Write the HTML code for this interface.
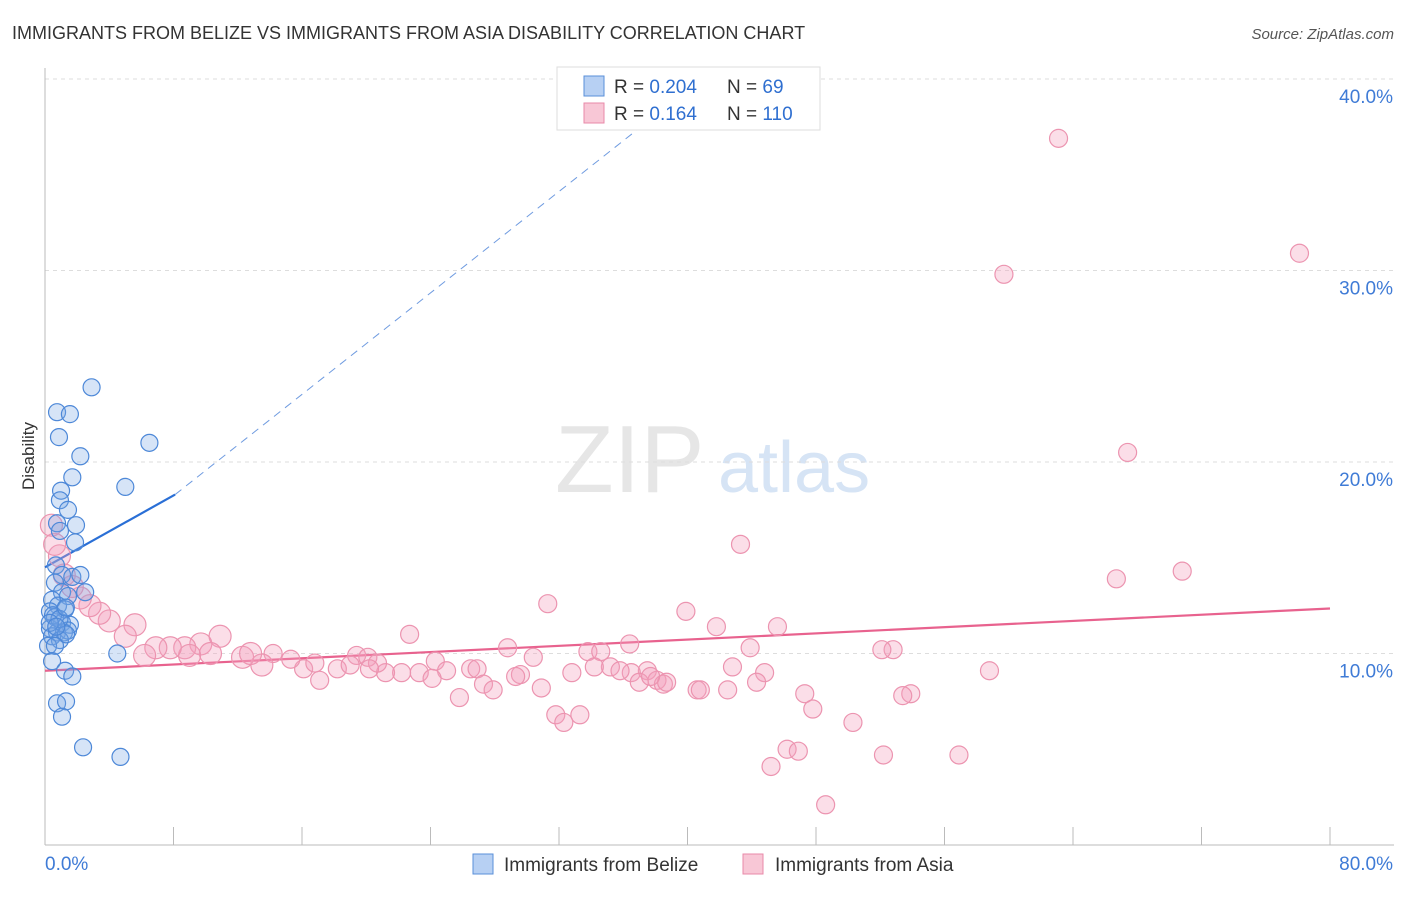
<!DOCTYPE html>
<html><head><meta charset="utf-8"><style>
body{margin:0;background:#fff;font-family:"Liberation Sans",sans-serif;}
svg text{font-family:"Liberation Sans",sans-serif;}
</style></head><body>
<svg id="chart" width="1406" height="892" xmlns="http://www.w3.org/2000/svg">
<text x="12" y="39" font-size="18" fill="#333">IMMIGRANTS FROM BELIZE VS IMMIGRANTS FROM ASIA DISABILITY CORRELATION CHART</text>
<text x="1394" y="39" font-size="15" fill="#555" text-anchor="end" font-style="italic">Source: ZipAtlas.com</text>
<text x="555" y="492" font-size="96" fill="#e6e6e6" font-family="Liberation Serif">ZIP</text>
<text x="718" y="492" font-size="72" fill="#d6e4f5">atlas</text>
<g id="grid"></g>
<g id="axes"></g>
<g id="trend"></g>
<g id="pts"></g>
<text x="34" y="456" font-size="17" fill="#333" text-anchor="middle" transform="rotate(-90 34 456)">Disability</text>
<g>
<rect x="557" y="67" width="263" height="63" fill="#fff" stroke="#ddd"/>
<rect x="584" y="76" width="20" height="20" fill="#b7d0f3" stroke="#5a8fd8"/>
<rect x="584" y="103" width="20" height="20" fill="#f8c7d6" stroke="#e88aa8"/>
<text x="614" y="93" font-size="19" fill="#333">R = <tspan fill="#2f6fd0">0.204</tspan></text>
<text x="727" y="93" font-size="19" fill="#333">N = <tspan fill="#2f6fd0"> 69</tspan></text>
<text x="614" y="120" font-size="19" fill="#333">R = <tspan fill="#2f6fd0"> 0.164</tspan></text>
<text x="727" y="120" font-size="19" fill="#333">N = <tspan fill="#2f6fd0">110</tspan></text>
</g>
<g>
<rect x="473" y="854" width="20" height="20" fill="#b7d0f3" stroke="#5a8fd8"/>
<text x="504" y="871" font-size="19" fill="#333">Immigrants from Belize</text>
<rect x="743" y="854" width="20" height="20" fill="#f8c7d6" stroke="#e88aa8"/>
<text x="775" y="871" font-size="19" fill="#333">Immigrants from Asia</text>
</g>
</svg>
<script>
const yTicks=[10,20,30,40];
const yTickLabels=["10.0%","20.0%","30.0%","40.0%"];
const xEndLabels=["0.0%","80.0%"];
const belizeX=[2.9,0.75,1.55,0.87,6.5,2.2,1.7,5.0,1.0,0.93,1.43,0.75,1.93,0.93,1.87,0.68,1.06,1.7,2.2,0.62,1.06,1.43,2.5,0.44,0.81,1.25,0.31,0.62,1.06,1.55,0.31,0.75,1.18,1.43,0.44,0.93,1.31,0.19,0.62,4.5,0.44,1.25,1.7,0.75,1.31,1.06,2.37,4.7,0.5,0.9,1.3,0.3,0.7];
const belizeY=[23.9,22.6,22.5,21.3,21.0,20.3,19.2,18.7,18.5,18.0,17.5,16.8,16.7,16.4,15.8,14.6,14.1,14.0,14.1,13.7,13.2,13.0,13.2,12.8,12.5,12.3,12.2,11.9,11.6,11.5,11.3,11.1,11.1,11.2,10.9,10.7,11.0,10.4,10.4,10.0,9.6,9.1,8.8,7.4,7.5,6.7,5.1,4.6,12.0,11.8,12.4,11.6,11.4];
const asiaX=[63.1,78.1,59.7,67.4,43.3,70.8,66.7,31.3,39.9,41.8,45.6,22.7,36.4,52.8,52.1,28.8,43.9,33.8,34.6,30.4,24.3,35.2,34.2,42.8,58.8,44.8,26.5,26.9,25.0,23.3,22.2,21.2,37.5,36.5,35.8,32.8,29.6,29.3,24.1,19.4,18.2,16.1,15.3,17.1,19.0,16.8,20.1,20.7,20.2,14.2,13.5,12.3,12.8,10.9,9.7,10.3,8.7,9.0,7.8,6.9,6.2,5.6,5.0,4.0,3.4,2.8,2.2,1.7,1.2,0.9,0.6,0.4,27.3,27.9,25.8,30.9,38.1,38.5,40.6,40.8,42.5,44.3,47.3,47.8,53.9,53.4,50.3,31.8,32.3,33.3,46.2,46.9,45.2,52.2,56.9,48.6,38.7,37.0,37.7];
const asiaY=[36.9,30.9,29.8,20.5,15.7,14.3,13.9,12.6,12.2,11.4,11.4,11.0,10.5,10.2,10.2,10.3,10.3,10.1,10.1,9.8,9.6,9.3,9.3,9.3,9.1,9.0,9.2,9.2,9.1,9.0,9.0,9.0,9.1,9.0,9.1,9.0,8.9,8.8,8.7,9.9,9.2,9.2,9.7,8.6,9.4,9.5,9.8,9.5,9.2,10.0,9.4,9.8,10.0,10.9,10.5,10.0,10.3,9.9,10.3,10.3,9.9,11.5,10.9,11.7,12.1,12.5,12.9,13.5,14.1,15.1,15.7,16.7,8.4,8.1,7.7,8.2,8.6,8.4,8.1,8.1,8.1,8.5,7.9,7.1,7.9,7.8,6.4,6.8,6.4,6.8,5.0,4.9,4.1,4.7,4.7,2.1,8.5,8.5,8.8];
const belizeTrend=[[0,14.5],[8.1,18.3]];
const belizeTrendDash=[[8.1,18.3],[37.7,37.9]];
const asiaTrend=[[0,9.1],[80,12.35]];

const NS="http://www.w3.org/2000/svg";
const X0=45,X1=1330,Y0=845,PXY=19.15;
const sx=v=>X0+v*(X1-X0)/80;
const sy=v=>Y0-v*PXY;
function mk(tag,attrs,parent){const e=document.createElementNS(NS,tag);for(const k in attrs)e.setAttribute(k,attrs[k]);parent.appendChild(e);return e;}
const grid=document.getElementById('grid'),axes=document.getElementById('axes'),trend=document.getElementById('trend'),pts=document.getElementById('pts');
yTicks.forEach((t,i)=>{
 const l=mk('line',{x1:X0,x2:1394,y1:sy(t),y2:sy(t),stroke:'#ddd','stroke-dasharray':'4,4'},grid);
 
 
 const tx=mk('text',{x:1393,y:sy(t)+24,'font-size':19,fill:'#3f7bd6','text-anchor':'end'},axes);
 tx.textContent=yTickLabels[i];
 
 
});
const al=mk('line',{x1:X0,x2:X0,y1:68,y2:Y0,stroke:'#bbb'},axes);


const xl=mk('line',{x1:X0,x2:1394,y1:Y0,y2:Y0,stroke:'#bbb'},axes);


for(let v=0;v<=80;v+=8){
 const t=mk('line',{x1:sx(v),x2:sx(v),y1:Y0-18,y2:Y0,stroke:'#bbb'},axes);
 
 
}
const xa=mk('text',{x:45,y:870,'font-size':19,fill:'#3f7bd6'},axes);xa.textContent=xEndLabels[0];


const xb=mk('text',{x:1393,y:870,'font-size':19,fill:'#3f7bd6','text-anchor':'end'},axes);xb.textContent=xEndLabels[1];


asiaX.forEach((x,i)=>{
 const r=(x<14)?11:9;
 const c=mk('circle',{cx:sx(x),cy:sy(asiaY[i]),r:r,fill:'rgba(243,160,188,0.35)',stroke:'#ec94b0','stroke-width':1.2},pts);
 
 
});
belizeX.forEach((x,i)=>{
 const c=mk('circle',{cx:sx(x),cy:sy(belizeY[i]),r:8.5,fill:'rgba(120,165,230,0.3)',stroke:'#4d88d8','stroke-width':1.2},pts);
 
 
});
const t1=mk('line',{x1:sx(belizeTrend[0][0]),y1:sy(belizeTrend[0][1]),x2:sx(belizeTrend[1][0]),y2:sy(belizeTrend[1][1]),stroke:'#2a6fd6','stroke-width':2.2},trend);


const t2=mk('line',{x1:sx(belizeTrendDash[0][0]),y1:sy(belizeTrendDash[0][1]),x2:sx(belizeTrendDash[1][0]),y2:sy(belizeTrendDash[1][1]),stroke:'#6f9be0','stroke-width':1,'stroke-dasharray':'8,6'},trend);


const t3=mk('line',{x1:sx(asiaTrend[0][0]),y1:sy(asiaTrend[0][1]),x2:sx(asiaTrend[1][0]),y2:sy(asiaTrend[1][1]),stroke:'#e8628e','stroke-width':2.2},trend);


</script>
</body></html>
